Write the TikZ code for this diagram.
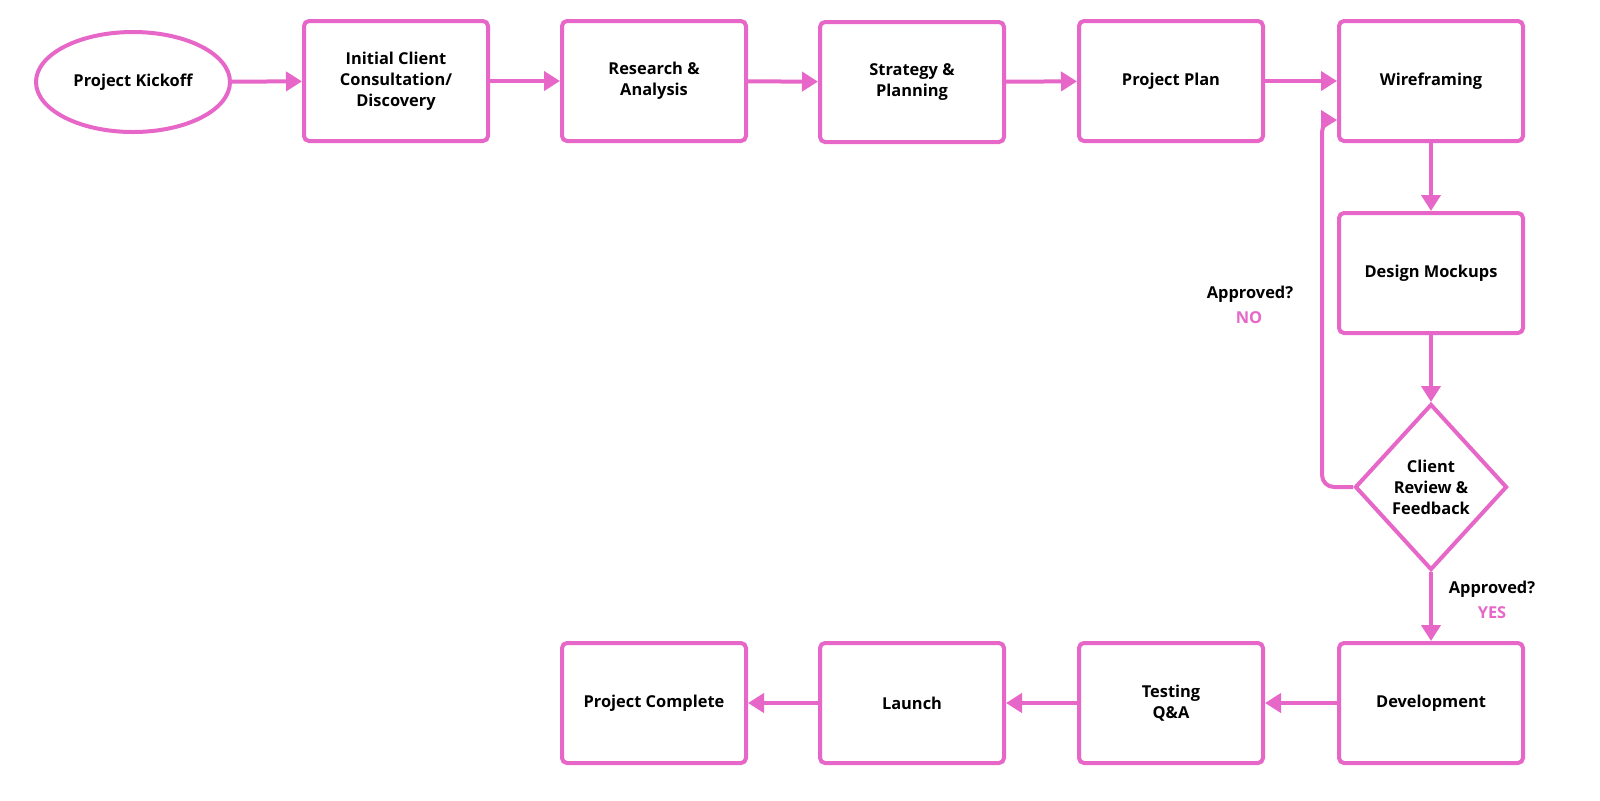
\documentclass[tikz,border=0pt]{standalone}
\usepackage{fontspec}
\setmainfont{Open Sans}
\usetikzlibrary{shapes.geometric,arrows.meta}
\definecolor{pk}{HTML}{E667C8}
\tikzset{
  box/.style={draw=pk,line width=2pt,rounded corners=2.5pt,minimum width=92pt,minimum height=60pt,align=center,font=\bfseries\fontsize{8.2}{10.5}\selectfont,fill=white},
  conn/.style={draw=pk,line width=2pt,-{Triangle[length=8pt,width=9.5pt]}},
}
\begin{document}
\begin{tikzpicture}[x=0.5pt,y=-0.5pt]
\useasboundingbox (0,0) rectangle (1600,800);
\node[draw=pk,line width=2pt,ellipse,minimum width=97pt,minimum height=50pt,font=\bfseries\fontsize{8.2}{10.5}\selectfont] (k) at (133,82) {Project Kickoff};
\node[box] (a) at (396,81) {Initial Client\\Consultation/\\Discovery};
\node[box] (b) at (654,81) {Research \&\\Analysis};
\node[box] (c) at (912,82) {Strategy \&\\Planning};
\node[box] (d) at (1171,81) {Project Plan};
\node[box] (w) at (1431,81) {Wireframing};
\node[box] (m) at (1431,273) {Design Mockups};
\node[draw=pk,line width=2pt,diamond,aspect=0.92,minimum width=76pt,minimum height=83pt,inner sep=0pt,align=center,font=\bfseries\fontsize{8.2}{10.5}\selectfont] (r) at (1431,487) {Client\\Review \&\\Feedback};
\node[box] (dev) at (1431,703) {Development};
\node[box] (t) at (1171,703) {Testing\\Q\&A};
\node[box] (l) at (912,703) {Launch};
\node[box] (pc) at (654,703) {Project Complete};
\draw[conn] (k) -- (a);
\draw[conn] (a) -- (b);
\draw[conn] (b) -- (c);
\draw[conn] (c) -- (d);
\draw[conn] (d) -- (w);
\draw[conn] (w) -- (m);
\draw[conn] (m) -- (r);
\draw[conn] (r) -- (dev);
\draw[conn] (dev) -- (t);
\draw[conn] (t) -- (l);
\draw[conn] (l) -- (pc);
\coordinate (wl) at (w.west |- 0,120);
\draw[conn,rounded corners=6pt] (r.west) -- (1322,487) -- (1322,120) -- (wl);
\node[font=\bfseries\fontsize{8.2}{10}\selectfont] (n1) at (1250,294) {Approved?};
\node[font=\bfseries\fontsize{8.2}{10}\selectfont,text=pk] (n2) at (1249,318) {NO};
\node[font=\bfseries\fontsize{8.2}{10}\selectfont] (y1) at (1492,589) {Approved?};
\node[font=\bfseries\fontsize{8.2}{10}\selectfont,text=pk] (y2) at (1492,613) {YES};
\end{tikzpicture}
\end{document}
